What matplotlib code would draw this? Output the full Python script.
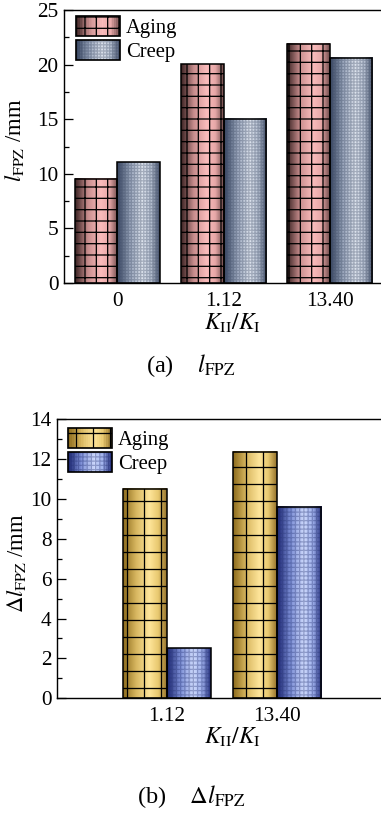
import numpy as np
import matplotlib
matplotlib.use("Agg")
import matplotlib.pyplot as plt
from matplotlib.colors import LinearSegmentedColormap
from matplotlib.patches import Rectangle
from matplotlib.legend_handler import HandlerBase

# data
ratio_a = ["0", "1.12", "13.40"]
aging_a = [9.55, 20.05, 21.9]
creep_a = [11.05, 15.05, 20.65]

ratio_b = ["1.12", "13.40"]
aging_b = [10.5, 12.35]
creep_b = [2.5, 9.6]

plt.rcParams['font.family'] = ['Liberation Serif', 'DejaVu Serif']
plt.rcParams['mathtext.fontset'] = 'stix'
plt.rcParams['hatch.linewidth'] = 0.45

DPI = 204
W, H = 381, 818
fig = plt.figure(figsize=(W / DPI, H / DPI), dpi=DPI)

# cylinder-like gradients (left edge dark, light near middle, right darker)
cm_pink = LinearSegmentedColormap.from_list('pink', [(0, '#3a2222'), (0.3, '#c88e8e'), (0.6, '#fbbcbc'), (0.8, '#e7a8a8'), (1, '#6e4a4a')])
cm_gray = LinearSegmentedColormap.from_list('gray', [(0, '#34425e'), (0.3, '#9aa6bc'), (0.6, '#dfe5ef'), (0.8, '#b7c1d2'), (1, '#44506a')])
cm_gold = LinearSegmentedColormap.from_list('gold', [(0, '#8c6a1c'), (0.3, '#d8b760'), (0.6, '#fee59a'), (0.8, '#e9c970'), (1, '#94722a')])
cm_navy = LinearSegmentedColormap.from_list('navy', [(0, '#18226e'), (0.3, '#7d8fd6'), (0.6, '#cdd9fc'), (0.8, '#9fb0ec'), (1, '#1f2a78')])

styles = {
    'aging_a': (cm_pink, '+++', '#000000'),
    'creep_a': (cm_gray, '+' * 11, (0.25, 0.3, 0.4, 0.35)),
    'aging_b': (cm_gold, '++', '#000000'),
    'creep_b': (cm_navy, '+' * 8, (0.15, 0.2, 0.45, 0.35)),
}
grad = np.linspace(0, 1, 256).reshape(1, -1)


def fancy_bars(ax, x, heights, width, key):
    cmap, hatch, hcol = styles[key]
    bars = ax.bar(x, heights, width, color='none', edgecolor='none', zorder=2)
    for b in bars:
        x0, y0 = b.get_x(), b.get_y()
        ax.imshow(grad, cmap=cmap, aspect='auto', interpolation='bilinear',
                  extent=[x0, x0 + b.get_width(), y0, y0 + b.get_height()], zorder=2)
    ax.bar(x, heights, width, color='none', edgecolor=hcol, hatch=hatch, linewidth=0, zorder=3)
    ax.bar(x, heights, width, color='none', edgecolor='black', linewidth=0.55, zorder=4)


class GradHandler(HandlerBase):
    def __init__(self, key):
        super().__init__()
        self.key = key

    def create_artists(self, legend, orig_handle, xdescent, ydescent, width, height, fontsize, trans):
        cmap, hatch, hcol = styles[self.key]
        arts = []
        n = 24
        for i in range(n):
            r = Rectangle((-xdescent + width * i / n, -ydescent), width / n + 0.05, height,
                          facecolor=cmap((i + 0.5) / n), edgecolor='none', transform=trans)
            arts.append(r)
        arts.append(Rectangle((-xdescent, -ydescent), width, height, facecolor='none',
                              edgecolor=hcol, hatch=hatch, linewidth=0, transform=trans))
        arts.append(Rectangle((-xdescent, -ydescent), width, height, facecolor='none',
                              edgecolor='black', linewidth=0.6, transform=trans))
        return arts


def style_axes(ax):
    ax.spines['right'].set_visible(False)
    for s in ['left', 'top', 'bottom']:
        ax.spines[s].set_linewidth(0.5)
    ax.tick_params(axis='y', which='both', direction='in', labelsize=7.5, width=0.45, pad=2)
    ax.tick_params(axis='y', which='major', length=3)
    ax.tick_params(axis='y', which='minor', length=1.8)
    ax.tick_params(axis='x', length=0, labelsize=7.5, pad=3)


def add_legend(ax, k1, k2, anchor):
    p1 = Rectangle((0, 0), 1, 1)
    p2 = Rectangle((0, 0), 1, 1)
    ax.legend([p1, p2], ['Aging', 'Creep'], loc='upper left', bbox_to_anchor=anchor,
              frameon=False, fontsize=7.3,
              handler_map={p1: GradHandler(k1), p2: GradHandler(k2)},
              handlelength=2.1, handleheight=1.1, handletextpad=0.3, labelspacing=0.1,
              borderaxespad=0.1, borderpad=0.15)


# ---- panel (a)
ax1 = fig.add_axes([64 / W, (H - 283) / H, (383 - 64) / W, (283 - 10) / H])
xa = np.arange(len(ratio_a))
bw = 0.4
fancy_bars(ax1, xa - bw / 2, aging_a, bw, 'aging_a')
fancy_bars(ax1, xa + bw / 2, creep_a, bw, 'creep_a')
ax1.set_xlim(-0.5, 2.5)
ax1.set_ylim(0, 25)
ax1.set_yticks([0, 5, 10, 15, 20, 25])
ax1.set_yticks(np.arange(2.5, 25, 5), minor=True)
ax1.set_xticks(xa)
ax1.set_xticklabels(ratio_a)
style_axes(ax1)
add_legend(ax1, 'aging_a', 'creep_a', (7 / 319, 1 - 1 / 273))

fig.text(15 / W, 1 - 140 / H, r'$l_{\mathrm{FPZ}}$ /mm', rotation=90, ha='center', va='center', fontsize=8)
fig.text(233 / W, 1 - 323 / H, r'$K_{\mathrm{II}}/K_{\mathrm{I}}$', ha='center', va='center', fontsize=8.3)
fig.text(191 / W, 1 - 366 / H, r'(a)    $l_{\mathrm{FPZ}}$', ha='center', va='center', fontsize=8.6)

# ---- panel (b)
ax2 = fig.add_axes([57 / W, (H - 698.3) / H, (387 - 57) / W, (698.3 - 419) / H])
xb = np.arange(1, len(ratio_b) + 1)
fancy_bars(ax2, xb - bw / 2, aging_b, bw, 'aging_b')
fancy_bars(ax2, xb + bw / 2, creep_b, bw, 'creep_b')
ax2.set_xlim(0, 3)
ax2.set_ylim(0, 14)
ax2.set_yticks(np.arange(0, 15, 2))
ax2.set_yticks(np.arange(1, 14, 2), minor=True)
ax2.set_xticks(xb)
ax2.set_xticklabels(ratio_b)
style_axes(ax2)
add_legend(ax2, 'aging_b', 'creep_b', (6 / 330, 1 - 4 / 279))

fig.text(17 / W, 1 - 563 / H, r'$\Delta l_{\mathrm{FPZ}}$ /mm', rotation=90, ha='center', va='center', fontsize=8)
fig.text(233 / W, 1 - 737 / H, r'$K_{\mathrm{II}}/K_{\mathrm{I}}$', ha='center', va='center', fontsize=8.3)
fig.text(191 / W, 1 - 797 / H, r'(b)    $\Delta l_{\mathrm{FPZ}}$', ha='center', va='center', fontsize=8.6)

fig.savefig('out.png', dpi=DPI)
